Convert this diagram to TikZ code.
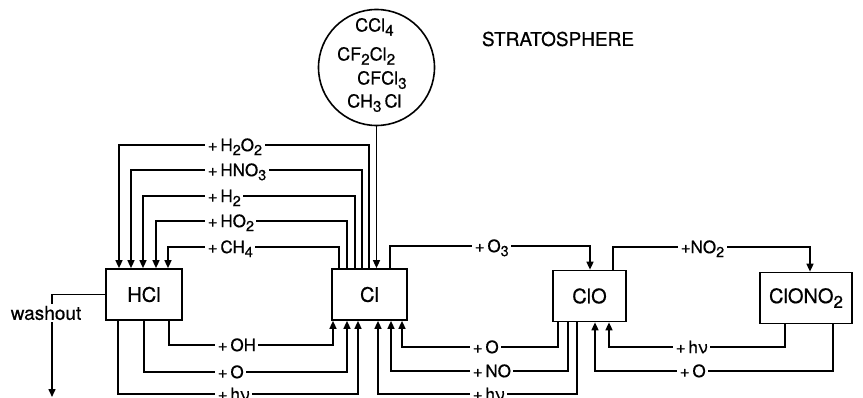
\documentclass[tikz,border=0pt]{standalone}
\usepackage{fontspec}
\setmainfont{TeX Gyre Heros}[FakeBold=0.6]
\usepackage{graphicx}
\usetikzlibrary{arrows.meta}
\newcommand{\dn}[1]{\raisebox{-0.45ex}{\scalebox{0.85}{#1}}}

\begin{document}
\begin{tikzpicture}[
    x=1pt, y=-1pt,
    >={Triangle[length=8pt,width=7pt]},
    species/.style={draw, line width=1.7pt, minimum height=51pt, inner sep=2pt, font=\fontsize{20}{22}\selectfont},
    link/.style={line width=1.5pt},
    lbl/.style={fill=white, anchor=west, inner sep=2.5pt, text height=12.2pt, text depth=0pt, font=\fontsize{17}{18}\selectfont},
    formula/.style={anchor=west, inner sep=0pt, text height=13pt, text depth=0pt, font=\fontsize{18}{20}\selectfont}
]
\useasboundingbox (0,0) rectangle (863,398);

% Species boxes
\node[species, minimum width=76pt] (hcl) at (144,294.5) {HCl};
\node[species, minimum width=75pt] (cl) at (369.5,294.5) {Cl};
\node[species, minimum width=73pt] (clo) at (589.5,296) {ClO};
\node[species, minimum width=92pt] (clono2) at (806,298) {ClONO\dn{2}};

% Source gases
\node[draw, circle, line width=1.6pt, minimum size=116pt, inner sep=0pt] (src) at (376.5,67.5) {};
\node[formula] (ccl4) at (355,25) {CCl\dn{4}};
\node[formula] (cf2cl2) at (337,54) {CF\dn{2}Cl\dn{2}};
\node[formula] (cfcl3) at (357,78) {CFCl\dn{3}};
\node[formula] (ch3cl) at (347,101) {CH\dn{3}\,Cl};
\node[font=\fontsize{19}{20}\selectfont] (strat) at (558,39) {STRATOSPHERE};

\draw[link, ->] (src.south) -- (src.south |- cl.north);

% Cl -> HCl
\foreach \xc/\yy/\xh/\txt [count=\i] in {339/247/168/{+\,CH\dn{4}}, 347/221/156/{+\,HO\dn{2}},
    355/196/143/{+\,H\dn{2}}, 362/170/131/{+\,HNO\dn{3}}, 369/145/119/{+\,H\dn{2}O\dn{2}}} {
  \draw[link, ->] (\xc,0 |- cl.north) |- (\xh,\yy) -- (\xh,0 |- hcl.north);
  \node[lbl] (top\i) at (205,\yy) {\txt};
}

% HCl -> Cl
\foreach \xs/\yy/\xt/\txt [count=\i] in {169/345/333/{+\,OH}, 144/372/347/{+\,O}, 118/394/358/{+\,hν}} {
  \draw[link, ->] (\xs,0 |- hcl.south) |- (\xt,\yy) -- (\xt,0 |- cl.south);
  \node[lbl] (bl\i) at (215,\yy) {\txt};
}

% ClO -> Cl
\foreach \xs/\yy/\xt/\txt [count=\i] in {558/347/402/{+\,O}, 568/371/391/{+\,NO}, 577/394/378/{+\,hν}} {
  \draw[link, ->] (\xs,0 |- clo.south) |- (\xt,\yy) -- (\xt,0 |- cl.south);
  \node[lbl] (bm\i) at (470,\yy) {\txt};
}

% ClONO2 -> ClO
\foreach \xs/\yy/\xt/\xl/\txt [count=\i] in {785/347/609/673/{+\,hν}, 833/371/595/677/{+\,O}} {
  \draw[link, ->] (\xs,0 |- clono2.south) |- (\xt,\yy) -- (\xt,0 |- clo.south);
  \node[lbl] (br\i) at (\xl,\yy) {\txt};
}

% Cl -> ClO -> ClONO2
\draw[link, ->] (390,0 |- cl.north) |- (590,246) -- (590,0 |- clo.north);
\node[lbl] (o3) at (472,246) {+\,O\dn{3}};
\draw[link, ->] (613,0 |- clo.north) |- (810,247) -- (810,0 |- clono2.north);
\node[lbl] (no2) at (678,247) {+NO\dn{2}};

% washout
\node[font=\fontsize{19}{20}\selectfont, inner sep=2pt] (wash) at (46,313) {washout};
\coordinate (sink) at (52,397);
\draw[link] (hcl.west) -| (sink |- wash.north);
\draw[link, ->] (sink |- wash.south) -- (sink);

\end{tikzpicture}
\end{document}
